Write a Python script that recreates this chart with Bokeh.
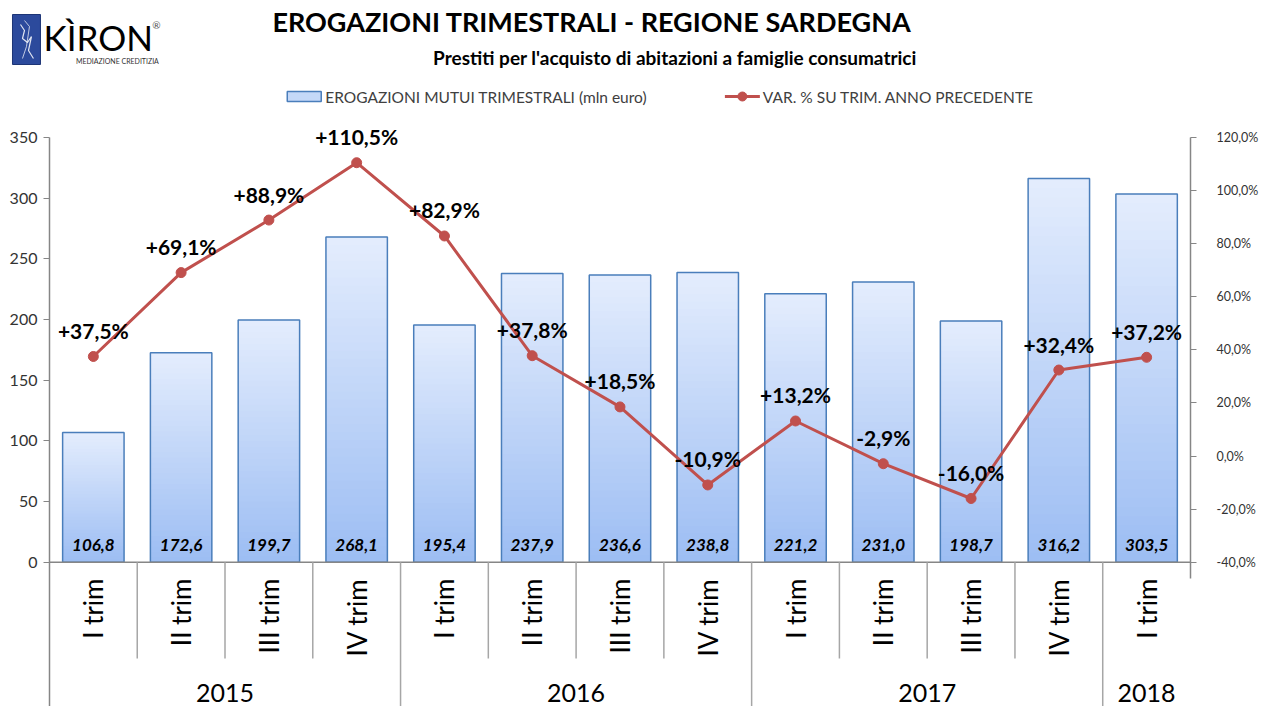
import numpy as np
from bokeh.plotting import figure
from bokeh.models import (Range1d, LinearAxis, FixedTicker, Label,
                          ColumnDataSource)
from bokeh.core.properties import value
from bokeh.embed import file_html
from bokeh.resources import INLINE

# ---------------- data ----------------
quarters = ["I trim", "II trim", "III trim", "IV trim",
            "I trim", "II trim", "III trim", "IV trim",
            "I trim", "II trim", "III trim", "IV trim",
            "I trim"]
years = ["2015"] * 4 + ["2016"] * 4 + ["2017"] * 4 + ["2018"]
erogazioni = [106.8, 172.6, 199.7, 268.1, 195.4, 237.9, 236.6, 238.8,
              221.2, 231.0, 198.7, 316.2, 303.5]
variazione = [37.5, 69.1, 88.9, 110.5, 82.9, 37.8, 18.5, -10.9,
              13.2, -2.9, -16.0, 32.4, 37.2]
left_ticks = [0, 50, 100, 150, 200, 250, 300, 350]
right_ticks = [-40, -20, 0, 20, 40, 60, 80, 100, 120]
right_tick_labels = ["-40,0%", "-20,0%", "0,0%", "20,0%", "40,0%",
                     "60,0%", "80,0%", "100,0%", "120,0%"]

title_text = "EROGAZIONI TRIMESTRALI - REGIONE SARDEGNA"
subtitle_text = "Prestiti per l'acquisto di abitazioni a famiglie consumatrici"
legend_bar = "EROGAZIONI MUTUI TRIMESTRALI (mln euro)"
legend_line = "VAR. % SU TRIM. ANNO PRECEDENTE"

FONT = "Lato"
BAR_TOP = np.array([0xe4, 0xed, 0xfd])
BAR_BOT = np.array([0x9c, 0xbd, 0xf3])
BAR_EDGE = "#4a7ebb"
RED = "#c0504d"
AXIS = "#868686"

W, H = 1261, 706
FL, FR = 49, 1191
Y0PX, Y350PX = 561.7, 137.0
lpx = (Y0PX - Y350PX) / 350.0          # px per unit, left axis
rpx = (Y0PX - Y350PX) / 160.0          # px per unit, right axis
ncat = len(erogazioni)
xpx = (FR - FL) / ncat

yl_start = -(H - Y0PX) / lpx
yl_end = 350 + Y350PX / lpx
yr_start = -40 - (H - Y0PX) / rpx
yr_end = 120 + Y350PX / rpx
x_start = -FL / xpx


def fx(px):
    return (px - FL) / xpx


def fy(py):
    return (Y0PX - py) / lpx


p = figure(width=W, height=H, output_backend="svg", toolbar_location=None,
           x_axis_location=None, y_axis_location=None,
           min_border_left=0, min_border_right=W - FR,
           min_border_top=0, min_border_bottom=0,
           x_range=Range1d(x_start, ncat), y_range=Range1d(yl_start, yl_end),
           outline_line_color=None, background_fill_color="white",
           border_fill_color="white")
p.extra_y_ranges = {"pct": Range1d(yr_start, yr_end)}
p.grid.visible = False

# axes
yl = LinearAxis(ticker=FixedTicker(ticks=left_ticks), bounds=(yl_start - 5, 350),
                fixed_location=0,
                axis_line_color=AXIS, axis_line_width=1.5,
                major_tick_line_color=AXIS, major_tick_out=6, major_tick_in=0,
                minor_tick_line_color=None,
                major_label_text_font=FONT, major_label_text_font_size="16px",
                major_label_text_color="#333333", major_label_standoff=6)
p.add_layout(yl, "left")

yr = LinearAxis(y_range_name="pct", ticker=FixedTicker(ticks=right_ticks),
                bounds=(-46, 120),
                major_label_overrides={t: l for t, l in zip(right_ticks, right_tick_labels)},
                axis_line_color=AXIS, axis_line_width=1.5,
                major_tick_line_color=AXIS, major_tick_out=6, major_tick_in=0,
                minor_tick_line_color=None,
                major_label_text_font=FONT, major_label_text_font_size="12.5px",
                major_label_text_color="#333333", major_label_standoff=20)
p.add_layout(yr, "right")

# gradient bars (slices)
N = 40
xs = np.arange(ncat) + 0.5
bw = 0.70
qs = dict(left=[], right=[], bottom=[], top=[], color=[])
for i, v in enumerate(erogazioni):
    for k in range(N):
        f = (k + 0.5) / N
        c = BAR_BOT + (BAR_TOP - BAR_BOT) * f
        qs["left"].append(xs[i] - bw / 2)
        qs["right"].append(xs[i] + bw / 2)
        qs["bottom"].append(v * k / N)
        qs["top"].append(min(v, v * (k + 1.6) / N))
        qs["color"].append("#%02x%02x%02x" % tuple(int(round(t)) for t in c))
p.quad(left="left", right="right", bottom="bottom", top="top",
       fill_color="color", line_color=None, source=ColumnDataSource(qs))
p.vbar(x=xs, width=bw, top=erogazioni, bottom=0, fill_color=None,
       line_color=BAR_EDGE, line_width=1.5)

# x axis line
p.segment(x0=[0], y0=[0], x1=[fx(FR + 2)], y1=[0], line_color=AXIS, line_width=1.5)

# category separators
sep_x, sep_b = [], []
for k in range(1, ncat):
    sep_x.append(k)
    sep_b.append(yl_start if years[k] != years[k - 1] else fy(658))
p.segment(x0=sep_x, y0=[0] * len(sep_x), x1=sep_x, y1=sep_b,
          line_color="#a6a6a6", line_width=1.5)

# bar value labels
p.text(x=xs, y=[0] * ncat,
       text=[f"{v:.1f}".replace(".", ",") for v in erogazioni],
       text_font=value(FONT), text_font_style="bold italic",
       text_font_size="17px", text_align="center", text_baseline="middle",
       y_offset=-17, text_color="black")

# category labels (rotated)
p.text(x=xs, y=[fy(578)] * ncat, text=quarters, angle=np.pi / 2,
       text_font=value(FONT), text_font_size="26px", text_align="right",
       text_baseline="middle", text_color="black")

# year labels
uy = []
for y in years:
    if y not in uy:
        uy.append(y)
ycent = []
for y in uy:
    idx = [i for i, t in enumerate(years) if t == y]
    ycent.append((idx[0] + idx[-1] + 1) / 2)
p.text(x=ycent, y=[fy(692)] * len(uy), text=uy, text_font=value(FONT),
       text_font_size="25px", text_align="center", text_baseline="middle",
       text_color="black")

# line series
p.line(x=xs, y=variazione, y_range_name="pct", line_color=RED, line_width=3)
p.scatter(x=xs, y=variazione, y_range_name="pct", size=10,
          fill_color=RED, line_color=RED)
p.text(x=xs, y=variazione, y_range_name="pct",
       text=[f"{v:+.1f}".replace(".", ",") + "%" for v in variazione],
       text_font=value(FONT), text_font_style="bold", text_font_size="21px",
       text_align="center", text_baseline="middle", y_offset=-26,
       text_color="black")

# titles
p.add_layout(Label(x=fx(592), y=fy(21), text=title_text, text_font=FONT,
                   text_font_style="bold", text_font_size="27px",
                   text_align="center", text_baseline="middle", text_color="black"))
p.add_layout(Label(x=fx(675), y=fy(57), text=subtitle_text, text_font=FONT,
                   text_font_style="bold", text_font_size="19px",
                   text_align="center", text_baseline="middle", text_color="black"))

# legend
p.quad(left=[fx(287)], right=[fx(321)], top=[fy(91)], bottom=[fy(101)],
       fill_color="#c4d8f8", line_color=BAR_EDGE, line_width=1.5)
p.add_layout(Label(x=fx(325), y=fy(96), text=legend_bar, text_font=FONT,
                   text_font_size="15.5px", text_align="left",
                   text_baseline="middle", text_color="#404040"))
p.line(x=[fx(725), fx(760)], y=[fy(96), fy(96)], line_color=RED, line_width=3)
p.scatter(x=[fx(742.5)], y=[fy(96)], size=9, fill_color=RED, line_color=RED)
p.add_layout(Label(x=fx(763), y=fy(96), text=legend_line, text_font=FONT,
                   text_font_size="15.5px", text_align="left",
                   text_baseline="middle", text_color="#404040"))

# logo
p.quad(left=[fx(12)], right=[fx(40)], top=[fy(14)], bottom=[fy(64)],
       fill_color="#2c4a9c", line_color="#1d3576", line_width=1)
p.line(x=[fx(20), fx(24), fx(22), fx(27), fx(31), fx(28), fx(33)],
       y=[fy(24), fy(30), fy(38), fy(42), fy(36), fy(50), fy(58)],
       line_color="white", line_width=1.2, line_alpha=0.85)
p.line(x=[fx(24), fx(29), fx(26), fx(22)],
       y=[fy(20), fy(26), fy(46), fy(58)],
       line_color="white", line_width=1.0, line_alpha=0.7)
p.add_layout(Label(x=fx(43), y=fy(36), text="KÌRON", text_font=FONT,
                   text_font_size="35px", text_align="left",
                   text_baseline="middle", text_color="black"))
p.add_layout(Label(x=fx(152), y=fy(24), text="®", text_font=FONT,
                   text_font_size="10px", text_align="left",
                   text_baseline="middle", text_color="#555555"))
p.add_layout(Label(x=fx(117), y=fy(60), text="MEDIAZIONE CREDITIZIA", text_font=FONT,
                   text_font_size="7px", text_align="center",
                   text_baseline="middle", text_color="#333333"))

open("out.html", "w").write(file_html(p, INLINE))
